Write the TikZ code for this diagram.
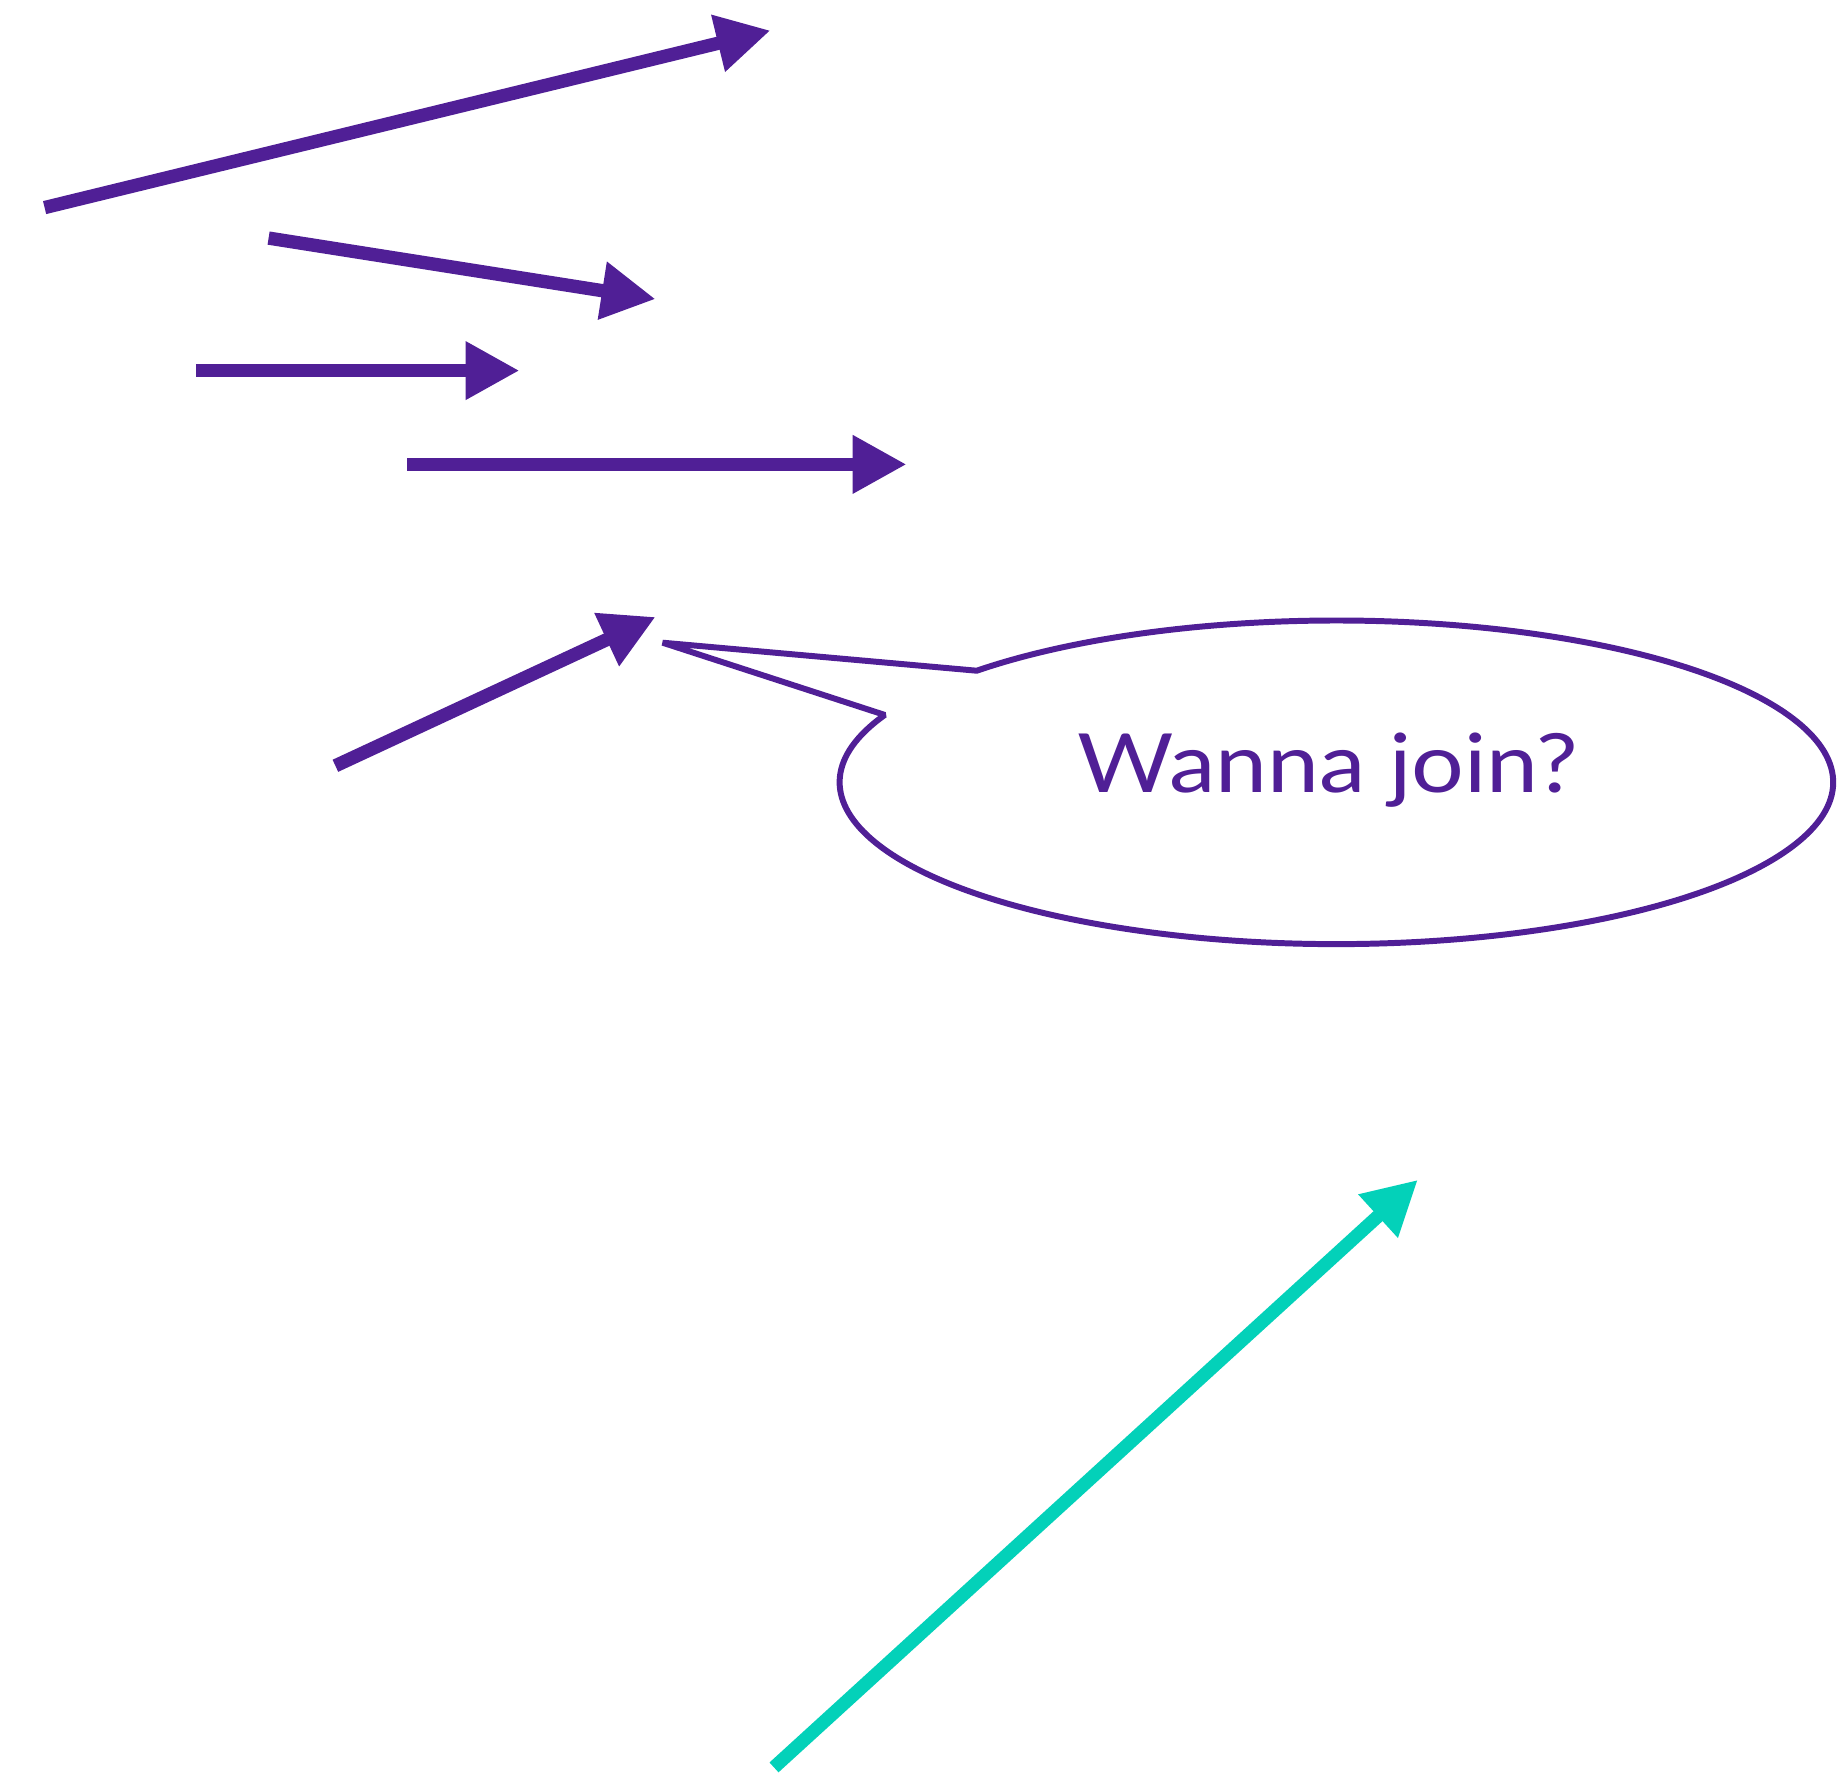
\documentclass[tikz,border=0pt]{standalone}
\usepackage{fontspec}
\setmainfont{Lato}
\newfontfamily\bubblefont[FakeStretch=1.14]{Lato}
\usetikzlibrary{arrows.meta,calc}
\definecolor{purp}{RGB}{80,31,150}
\definecolor{tealc}{RGB}{3,209,185}
\begin{document}
\begin{tikzpicture}[x=0.02cm,y=0.02cm,
  arr/.style={line width=7.6pt, draw=purp, -{Triangle[length=1.08cm,width=1.1cm,fill=purp]}},
  tarr/.style={line width=7.6pt, draw=tealc, -{Triangle[length=1.08cm,width=1.1cm,fill=tealc]}},
  bubble/.style={draw=purp, line width=3.4pt, line join=bevel},
  label/.style={text=purp, font=\bubblefont\fontsize{46.5}{56}\selectfont, anchor=base, inner sep=0pt}]
\useasboundingbox (0,0) rectangle (1839,1776);
% arrows
\coordinate (a1s) at (44.6,1568.4);  \coordinate (a1e) at (770.5,1745.5);
\coordinate (a2s) at (268.6,1537.9); \coordinate (a2e) at (655.6,1476.9);
\coordinate (a3s) at (195.9,1405.4); \coordinate (a3e) at (519.5,1405.4);
\coordinate (a4s) at (407.0,1311.6); \coordinate (a4e) at (906.6,1311.6);
\coordinate (a5s) at (335.4,1010.2); \coordinate (a5e) at (655.6,1159.1);
\coordinate (ts) at (774,8.6);       \coordinate (te) at (1417.9,596.2);
\draw[arr] (a1s) -- (a1e);
\draw[arr] (a2s) -- (a2e);
\draw[arr] (a3s) -- (a3e);
\draw[arr] (a4s) -- (a4e);
\draw[arr] (a5s) -- (a5e);
\draw[tarr] (ts) -- (te);
% speech bubble
\coordinate (ctr) at (1336.4,993.7);
\coordinate (ptip) at (662.6,1133.3);
\coordinate (bA) at ($(ctr)+(155.4:496.7 and 161.8)$);
\coordinate (bB) at ($(ctr)+(136.4:496.7 and 161.8)$);
\draw[bubble] (bB) -- (ptip) -- (bA)
  arc[start angle=155.4, end angle=496.4, x radius=496.7, y radius=161.8] -- cycle;
\node[label] (txt) at (1328,983) {Wanna join?};
\end{tikzpicture}
\end{document}
